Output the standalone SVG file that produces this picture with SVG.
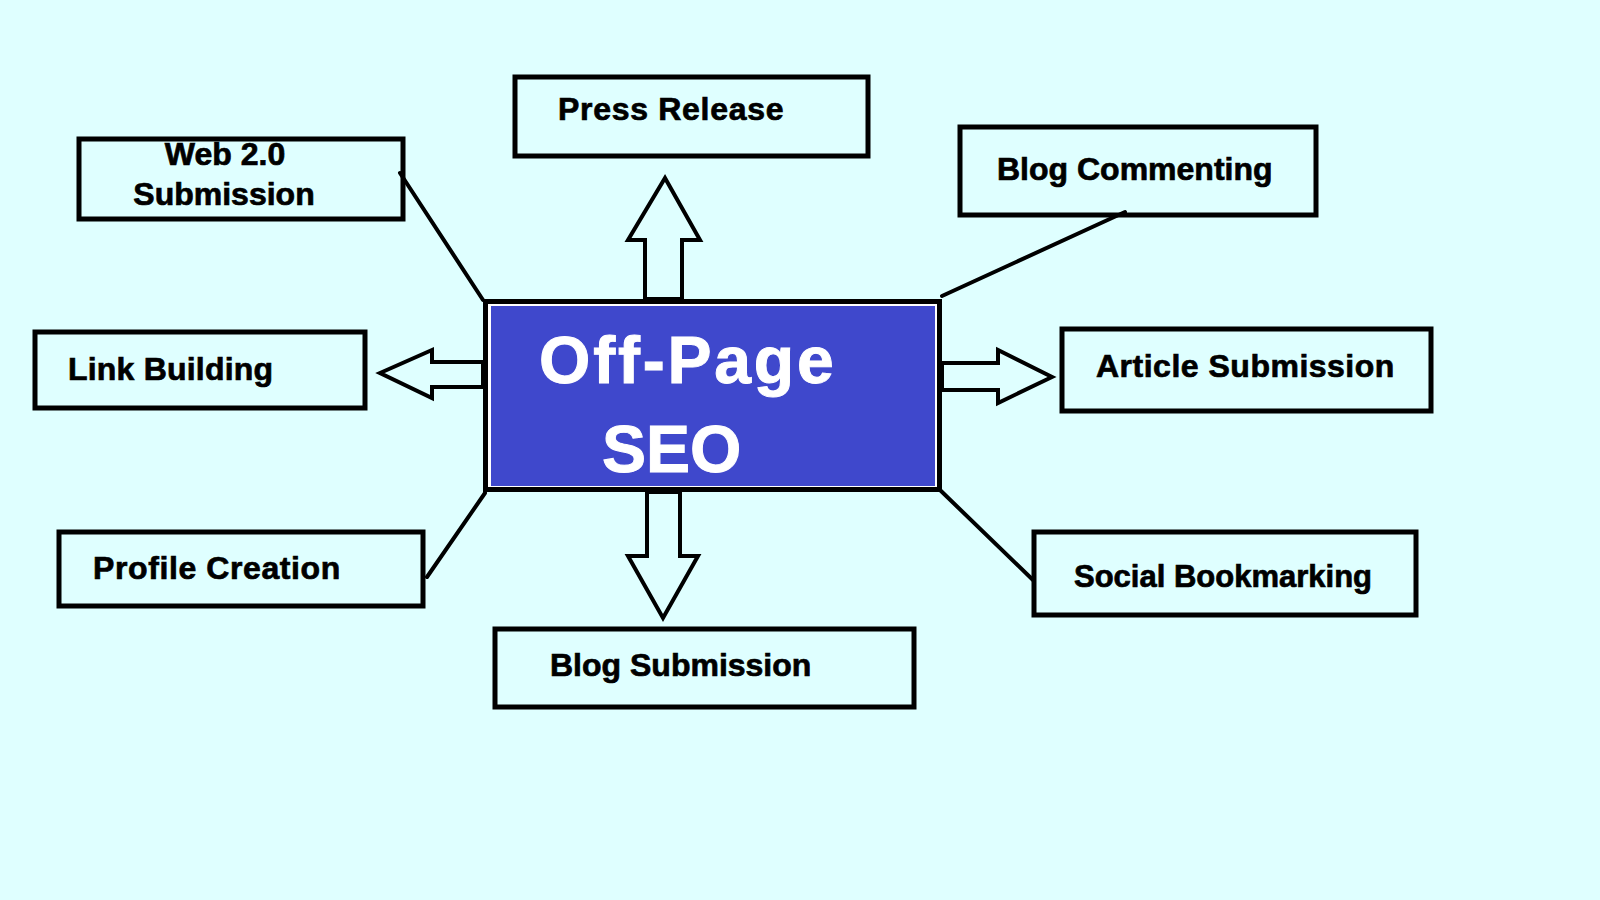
<svg xmlns="http://www.w3.org/2000/svg" width="1600" height="900" viewBox="0 0 1600 900">
<style>
.node{fill:none;stroke:#000;stroke-width:5}
.lbl{font-family:"Liberation Sans",Arial,sans-serif;font-weight:bold;font-size:32px;fill:#000;stroke:#000;stroke-width:0.7}
.title{font-family:"Liberation Sans",Arial,sans-serif;font-weight:bold;font-size:66px;fill:#fff;stroke:#fff;stroke-width:1}
.arrow{fill:#DFFFFF;stroke:#000;stroke-width:4;stroke-linejoin:miter}
.line{stroke:#000;stroke-width:4;fill:none;stroke-linecap:round}
</style>
<rect x="0" y="0" width="1600" height="900" fill="#DFFFFF"/>
<g id="connectors">
<line class="line" x1="400" y1="173" x2="483" y2="300"/>
<line class="line" x1="1125" y1="212" x2="942" y2="296"/>
<line class="line" x1="427" y1="577" x2="485" y2="493"/>
<line class="line" x1="940" y1="490" x2="1033" y2="580"/>
<polygon class="arrow" points="645,299 645,240 628,240 665,178 700,240 682,240 682,299"/>
<polygon class="arrow" points="647,492 647,556 628,556 663,618 698,556 680,556 680,492"/>
<polygon class="arrow" points="483,362 432,362 432,350 380,373 432,398 432,387 483,387"/>
<polygon class="arrow" points="942,363 998,363 998,350 1052,377 998,403 998,390 942,390"/>
</g>
<g id="center">
<rect x="485.5" y="301.5" width="454" height="188" fill="#fff" stroke="#000" stroke-width="5"/>
<rect x="491" y="306" width="444" height="180" fill="#3F48CC"/>
<text class="title" x="539" y="383" letter-spacing="2.8">Off-Page</text>
<text class="title" x="602" y="472">SEO</text>
</g>
<g id="press-release">
<rect class="node" x="515" y="77" width="353" height="79"/>
<text class="lbl" x="558" y="120" letter-spacing="0.7">Press Release</text>
</g>
<g id="web20">
<rect class="node" x="79" y="139" width="324" height="80"/>
<text class="lbl" x="225" y="165" text-anchor="middle">Web 2.0</text>
<text class="lbl" x="224" y="205" text-anchor="middle">Submission</text>
</g>
<g id="blog-commenting">
<rect class="node" x="960" y="127" width="356" height="88"/>
<text class="lbl" x="997" y="180">Blog Commenting</text>
</g>
<g id="link-building">
<rect class="node" x="35" y="332" width="330" height="76"/>
<text class="lbl" x="68" y="380" letter-spacing="0.2">Link Building</text>
</g>
<g id="article-submission">
<rect class="node" x="1062" y="329" width="369" height="82"/>
<text class="lbl" x="1096" y="377" letter-spacing="0.5">Article Submission</text>
</g>
<g id="profile-creation">
<rect class="node" x="59" y="532" width="364" height="74"/>
<text class="lbl" x="93" y="579" letter-spacing="0.6">Profile Creation</text>
</g>
<g id="social-bookmarking">
<rect class="node" x="1034" y="532" width="382" height="83"/>
<text class="lbl" x="1074" y="587" style="font-size:31px">Social Bookmarking</text>
</g>
<g id="blog-submission">
<rect class="node" x="495" y="629" width="419" height="78"/>
<text class="lbl" x="550" y="676">Blog Submission</text>
</g>
</svg>
